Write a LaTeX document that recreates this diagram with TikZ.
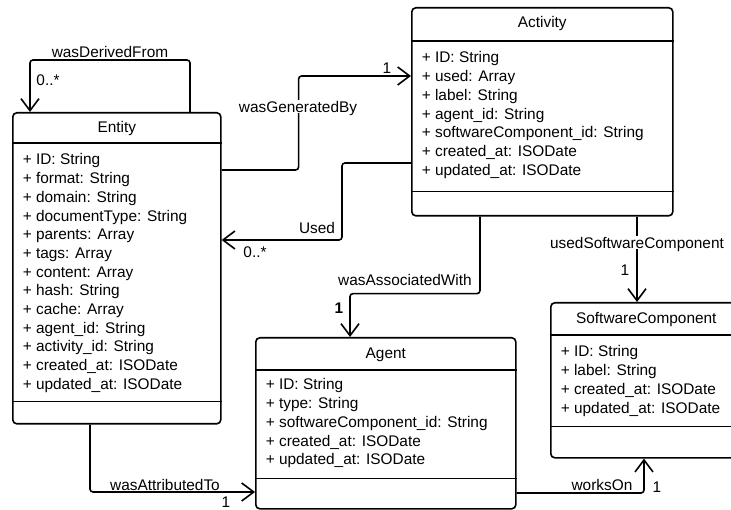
\documentclass[tikz,border=0pt]{standalone}
\usepackage{fontspec}
\setmainfont{Liberation Sans}
\usetikzlibrary{arrows.meta, positioning}

\begin{document}
\begin{tikzpicture}[x=1pt, y=-1pt, >={Straight Barb[length=12pt, width=18pt]},
		font=\fontsize{15.4}{18.7}\selectfont, line width=1.6pt,
		classbox/.style={draw, rounded corners=4pt, anchor=north west, inner sep=0pt},
		title/.style={inner sep=0pt, text height=11pt, text depth=0pt},
		attrs/.style={inner sep=0pt, align=left},
		lbl/.style={inner sep=1pt, text height=11pt, text depth=0pt},
		crosslbl/.style={lbl, fill=white},
		assoc/.style={->, rounded corners=3pt}]
				\clip (0,0) rectangle (731,510);
				
				% classes
				\node [classbox, minimum width=208pt, minimum height=311pt] (entity) at (12,112) {};
				\node [classbox, minimum width=261pt, minimum height=208pt] (activity) at (411,7) {};
				\node [classbox, minimum width=260pt, minimum height=171pt] (agent) at (255,337) {};
				\node [classbox, minimum width=191pt, minimum height=155pt] (sc) at (550,302) {};
				
				\draw ([yshift=-31pt]entity.north west) -- ([yshift=-31pt]entity.north east);
				\draw ([yshift=23pt]entity.south west) -- ([yshift=23pt]entity.south east);
				\draw ([yshift=-34pt]activity.north west) -- ([yshift=-34pt]activity.north east);
				\draw ([yshift=25pt]activity.south west) -- ([yshift=25pt]activity.south east);
				\draw ([yshift=-33pt]agent.north west) -- ([yshift=-33pt]agent.north east);
				\draw ([yshift=31pt]agent.south west) -- ([yshift=31pt]agent.south east);
				\draw ([yshift=-33pt]sc.north west) -- ([yshift=-33pt]sc.north east);
				\draw ([yshift=32pt]sc.south west) -- ([yshift=32pt]sc.south east);
				
				\node [title, below=9pt of entity.north] (entityname) {Entity};
				\node [title, below=9pt of activity.north] (activityname) {Activity};
				\node [title, below=9.5pt of agent.north] (agentname) {Agent};
				\node [title, below=9.5pt of sc.north] (scname) {SoftwareComponent};
				
				\node [attrs, below right=41pt and 10pt of entity.north west] (entityattrs) {+ ID: String\\+ format: String\\+ domain: String\\+ documentType: String\\+ parents: Array\\+ tags: Array\\+ content: Array\\+ hash: String\\+ cache: Array\\+ agent\_id: String\\+ activity\_id: String\\+ created\_at: ISODate\\+ updated\_at: ISODate};
				\node [attrs, below right=44pt and 10pt of activity.north west] (activityattrs) {+ ID: String\\+ used: Array\\+ label: String\\+ agent\_id: String\\+ softwareComponent\_id: String\\+ created\_at: ISODate\\+ updated\_at: ISODate};
				\node [attrs, below right=41pt and 10pt of agent.north west] (agentattrs) {+ ID: String\\+ type: String\\+ softwareComponent\_id: String\\+ created\_at: ISODate\\+ updated\_at: ISODate};
				\node [attrs, below right=43pt and 10pt of sc.north west] (scattrs) {+ ID: String\\+ label: String\\+ created\_at: ISODate\\+ updated\_at: ISODate};
				
				% associations
				\draw [assoc] ([xshift=178pt]entity.north west) -- ++(0,-52) -| ([xshift=18pt]entity.north west);
				\draw [assoc] ([yshift=-58pt]entity.north east) -- ++(77,0) |- ([yshift=-69pt]activity.north west);
				\draw [assoc] ([yshift=-156pt]activity.north west) -- ++(-69,0) |- ([yshift=-128pt]entity.north east);
				\draw [assoc] ([xshift=69pt]activity.south west) -- ++(0,77) -| ([xshift=95pt]agent.north west);
				\draw [assoc] ([xshift=226pt]activity.south west) -- ([xshift=87pt]sc.north west);
				\draw [assoc] ([yshift=-156pt]agent.north east) -| ([xshift=94pt]sc.south west);
				\draw [assoc] ([xshift=78pt]entity.south west) |- ([yshift=-155pt]agent.north west);
				
				\node [lbl] (derivedlbl) at (110,52) {wasDerivedFrom};
				\node [lbl] (derivedmul) at (48,80) {0..*};
				\node [crosslbl] (generatedlbl) at (298,107) {wasGeneratedBy};
				\node [lbl] (generatedmul) at (387,68) {1};
				\node [lbl] (usedlbl) at (317,228) {Used};
				\node [lbl] (usedmul) at (255,252) {0..*};
				\node [lbl] (associatedlbl) at (405,280) {wasAssociatedWith};
				\node [lbl, font=\fontsize{15.4}{18.7}\selectfont\bfseries] (associatedmul) at (339,308) {1};
				\node [crosslbl] (softwarelbl) at (637,243) {usedSoftwareComponent};
				\node [lbl] (softwaremul) at (625,270) {1};
				\node [lbl] (workslbl) at (602,485) {worksOn};
				\node [lbl] (worksmul) at (657,487) {1};
				\node [lbl] (attributedlbl) at (165,485) {wasAttributedTo};
				\node [lbl] (attributedmul) at (226,502) {1};
			\end{tikzpicture}
\end{document}
